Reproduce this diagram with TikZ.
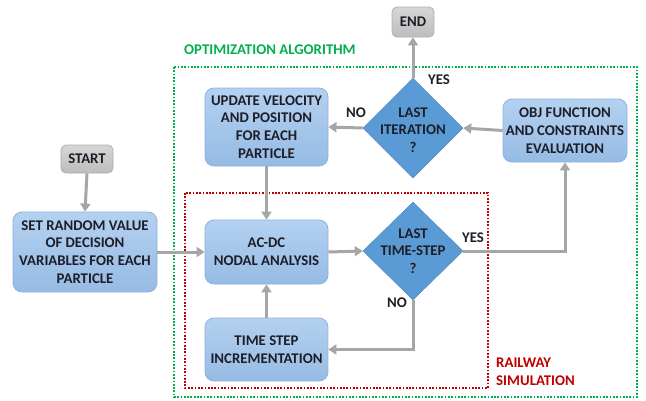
\documentclass[tikz,border=0pt]{standalone}
\usepackage{fontspec}
\setmainfont{Carlito}
\usetikzlibrary{shapes.geometric,arrows.meta}
\definecolor{txt}{HTML}{1E1E28}
\definecolor{boxtop}{HTML}{B4D1F0}
\definecolor{boxbot}{HTML}{96BBE4}
\definecolor{boxline}{HTML}{8DB2DD}
\definecolor{diafill}{HTML}{5B9BD5}
\definecolor{graytop}{HTML}{D6D6D6}
\definecolor{graybot}{HTML}{BDBDBD}
\definecolor{grayline}{HTML}{ADADAD}
\definecolor{arrcol}{HTML}{A6A6A6}
\definecolor{optgreen}{HTML}{00B050}
\definecolor{simred}{HTML}{C00000}
\tikzset{
  lbl/.style={font=\fontsize{14.8}{17.7}\selectfont\bfseries, text=txt, align=center, inner sep=0pt},
  box/.style={lbl, rounded corners=9pt, draw=boxline, line width=0.8pt, top color=boxtop, bottom color=boxbot},
  graybox/.style={lbl, rounded corners=5pt, draw=grayline, line width=0.8pt, top color=graytop, bottom color=graybot},
  dia/.style={diamond, shape aspect=1, draw=diafill!90!black, line width=0.5pt, fill=diafill, minimum width=100pt, minimum height=100pt, inner sep=0pt},
  arr/.style={draw=arrcol, line width=3pt, -{Triangle[length=8pt,width=10pt]}},
  grpbox/.style={line width=2.2pt, dash pattern=on 1.7pt off 1.6pt},
  grplbl/.style={font=\fontsize{14.8}{17.7}\selectfont\bfseries, inner sep=0pt, anchor=west}
}
\begin{document}
\begin{tikzpicture}[x=1pt,y=-1pt]
\useasboundingbox (0,0) rectangle (646,400);
% group frames
\draw[grpbox, draw=optgreen] (174,67) rectangle (637,397);
\draw[grpbox, draw=simred] (185,193) rectangle (488,388);
\node[grplbl, text=optgreen] (optl) at (184,50) {OPTIMIZATION ALGORITHM};
\node[grplbl, text=simred, align=left] (siml) at (496,371.5) {RAILWAY\\SIMULATION};
% nodes
\node[graybox, minimum width=42pt, minimum height=30pt] (end) at (413,22) {END};
\node[graybox, minimum width=52pt, minimum height=28pt] (start) at (87,159) {START};
\node[box, minimum width=123pt, minimum height=78pt] (upd) at (266.5,127) {UPDATE VELOCITY\\AND POSITION\\FOR EACH\\PARTICLE};
\node[box, minimum width=124pt, minimum height=63pt] (obj) at (565,130.5) {OBJ FUNCTION\\AND CONSTRAINTS\\EVALUATION};
\node[box, minimum width=144pt, minimum height=80pt] (set) at (85,252) {SET RANDOM VALUE\\OF DECISION\\VARIABLES FOR EACH\\PARTICLE};
\node[box, minimum width=123pt, minimum height=64pt] (acdc) at (266.5,252) {AC-DC\\NODAL ANALYSIS};
\node[box, minimum width=123pt, minimum height=63pt] (time) at (266.5,349.5) {TIME STEP\\INCREMENTATION};
\node[dia] (d1) at (413,128) {};
\node[lbl] (d1t) at (413,130) {LAST\\ITERATION\\?};
\node[dia, minimum height=98pt] (d2) at (413,251) {};
\node[lbl] (d2t) at (413,251) {LAST\\TIME-STEP\\?};
% connector labels
\node[lbl] (yes1) at (439,80) {YES};
\node[lbl] (no1) at (356,113) {NO};
\node[lbl] (yes2) at (473,238) {YES};
\node[lbl] (no2) at (397,303) {NO};
% connectors
\draw[arr] (d1.north) -- (end.south);
\draw[arr] (d1.west) -- (upd.east);
\draw[arr] (obj.west) -- (d1.east);
\draw[arr] (start.south) -- (set.north);
\draw[arr] (set.east) -- (acdc.west);
\draw[arr] (upd.south) -- (acdc.north);
\draw[arr] (acdc.east) -- (d2.west);
\draw[arr] (d2.east) -| (obj.south);
\draw[arr] (d2.south) |- (time.east);
\draw[arr] (time.north) -- (acdc.south);
\end{tikzpicture}
\end{document}
